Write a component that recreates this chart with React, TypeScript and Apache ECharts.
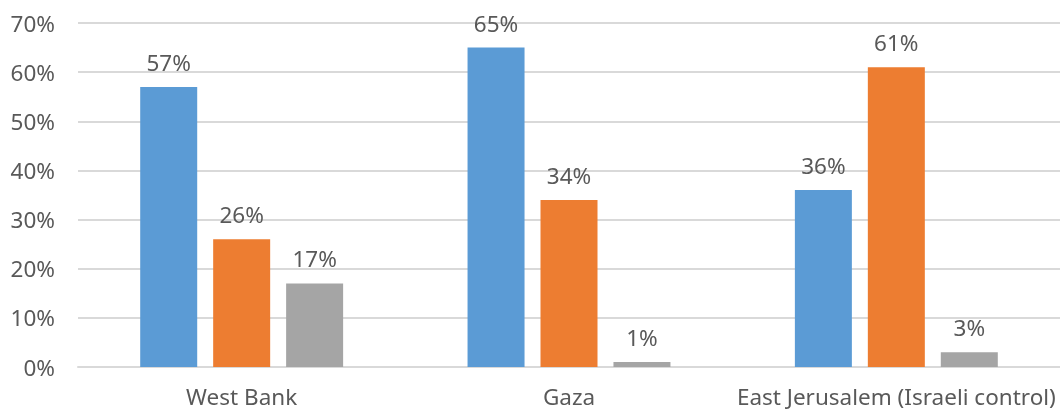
import React, { useEffect, useRef } from "react";
import * as echarts from "echarts";

const categories = ["West Bank", "Gaza", "East Jerusalem (Israeli control)"];
const seriesA = [57, 65, 36];
const seriesB = [26, 34, 61];
const seriesC = [17, 1, 3];
const colors = ["#5B9BD5", "#ED7D31", "#A5A5A5"];

export default function App() {
  const ref = useRef<HTMLDivElement>(null);
  useEffect(() => {
    const chart = echarts.init(ref.current!, null, { renderer: "svg" });
    const font = "'Noto Sans', sans-serif";
    const fs = 22.5;
    const label = {
      show: true,
      position: "top",
      distance: 13,
      formatter: "{c}%",
      color: "#595959",
      fontSize: fs,
      fontFamily: font,
    };
    const mk = (data: number[], i: number) => ({
      type: "bar",
      data,
      barWidth: 57,
      barGap: "28%",
      itemStyle: { color: colors[i] },
      label,
    });
    chart.setOption({
      animation: false,
      grid: { left: 78, right: 0, top: 23, bottom: 45, outerBoundsMode: "none", containLabel: false },
      xAxis: {
        type: "category",
        data: categories,
        axisLine: { show: true, lineStyle: { color: "#D9D9D9", width: 2 } },
        axisTick: { show: false },
        axisLabel: { color: "#595959", fontSize: fs, fontFamily: font, margin: 18, interval: 0, hideOverlap: false },
      },
      yAxis: {
        type: "value",
        min: 0,
        max: 70,
        interval: 10,
        axisLine: { show: false },
        axisTick: { show: false },
        splitLine: { lineStyle: { color: "#D9D9D9", width: 2 } },
        axisLabel: { color: "#595959", fontSize: fs, fontFamily: font, margin: 23, formatter: "{value}%" },
      },
      series: [mk(seriesA, 0), mk(seriesB, 1), mk(seriesC, 2)],
    });
    return () => chart.dispose();
  }, []);
  return <div ref={ref} style={{ position: "fixed", left: 0, top: 0, width: 1060, height: 412 }} />;
}
